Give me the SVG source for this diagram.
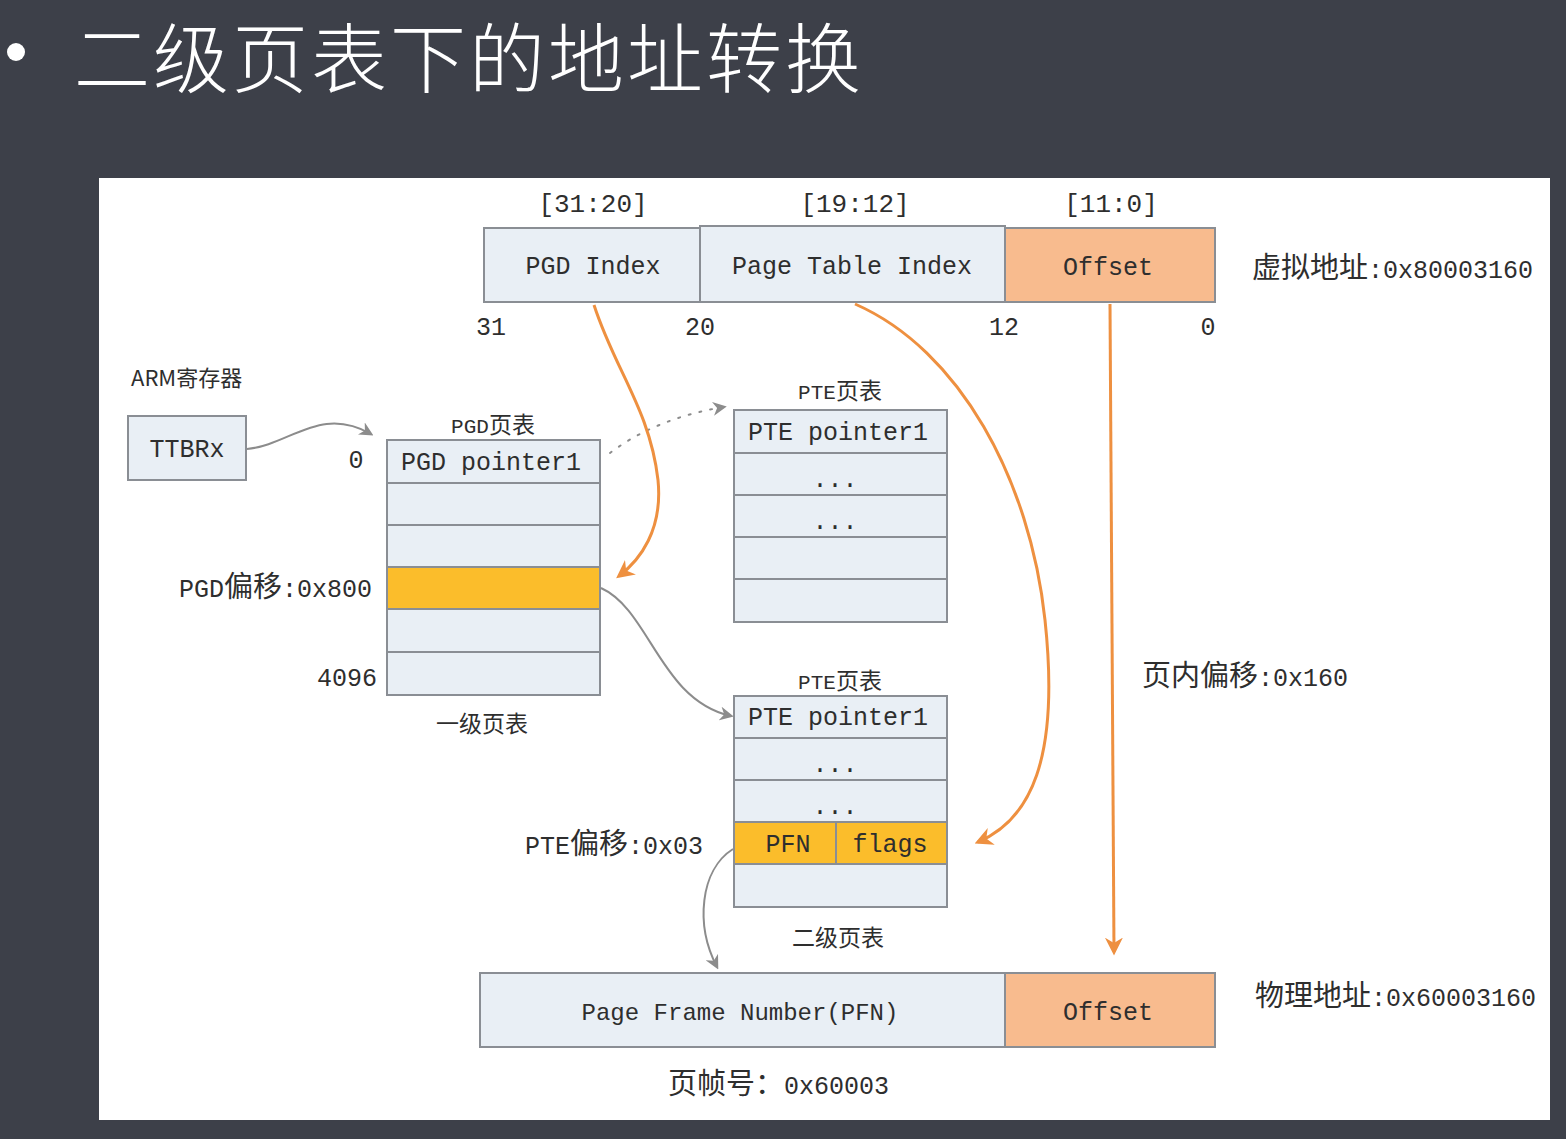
<svg xmlns="http://www.w3.org/2000/svg" width="1566" height="1139" viewBox="0 0 1566 1139">
  <defs>
    <style>
      .m { font-family: 'Liberation Mono', 'Noto Sans CJK SC', monospace; fill: #2e2e2e; }
      .c { font-family: 'Noto Sans CJK SC', sans-serif; }
      .cell { fill: #e9eff5; stroke: #8a8e94; stroke-width: 2; }
      .hl { fill: #fbbd2b; stroke: #8a8e94; stroke-width: 2; }
      .off { fill: #f8bb8e; stroke: #8a8e94; stroke-width: 2; }
      .or { fill: none; stroke: #ee9040; stroke-width: 3; }
      .gr { fill: none; stroke: #8c8c8c; stroke-width: 2; }
    </style>
    <marker id="ao" viewBox="0 0 10 10" refX="8" refY="5" markerWidth="6" markerHeight="6" orient="auto" markerUnits="strokeWidth">
      <path d="M0,0 L10,5 L0,10 L3,5 Z" fill="#ee9040"/>
    </marker>
    <marker id="ag" viewBox="0 0 10 10" refX="8" refY="5" markerWidth="7" markerHeight="7" orient="auto" markerUnits="strokeWidth">
      <path d="M0,0 L10,5 L0,10 L3,5 Z" fill="#8c8c8c"/>
    </marker>
  </defs>

  <!-- slide background and canvas -->
  <rect x="0" y="0" width="1566" height="1139" fill="#3d4049"/>
  <rect x="99" y="178" width="1451" height="942" fill="#ffffff"/>

  <!-- heading -->
  <g id="title">
    <circle cx="16" cy="52" r="9" fill="#ffffff"/>
    <text x="74" y="87" font-family="'Noto Sans CJK SC', sans-serif" font-size="76" font-weight="300" letter-spacing="3" fill="#ffffff">二级页表下的地址转换</text>
  </g>

  <!-- virtual address -->
  <g id="vaddr">
    <rect class="cell" x="484" y="228" width="216" height="74"/>
    <rect class="cell" x="700" y="226" width="305" height="76"/>
    <rect class="off" x="1005" y="228" width="210" height="74"/>
    <text class="m" x="593" y="274" font-size="25" text-anchor="middle">PGD Index</text>
    <text class="m" x="852" y="274" font-size="25" text-anchor="middle">Page Table Index</text>
    <text class="m" x="1108" y="275" font-size="25" text-anchor="middle">Offset</text>
    <text class="m" x="593" y="212" font-size="26" text-anchor="middle">[31:20]</text>
    <text class="m" x="855" y="212" font-size="26" text-anchor="middle">[19:12]</text>
    <text class="m" x="1111" y="212" font-size="26" text-anchor="middle">[11:0]</text>
    <text class="m" x="491" y="335" font-size="25" text-anchor="middle">31</text>
    <text class="m" x="700" y="335" font-size="25" text-anchor="middle">20</text>
    <text class="m" x="1004" y="335" font-size="25" text-anchor="middle">12</text>
    <text class="m" x="1208" y="335" font-size="25" text-anchor="middle">0</text>
    <text class="m" x="1252" y="278" font-size="25"><tspan class="c" font-size="29">虚拟地址</tspan>:0x80003160</text>
  </g>

  <!-- ARM register -->
  <g id="ttbr">
    <text class="m" x="131" y="386" font-size="20" font-weight="bold"><tspan class="c" font-size="22" font-weight="normal">ARM寄存器</tspan></text>
    <rect class="cell" x="128" y="416" width="118" height="64"/>
    <text class="m" x="187" y="457" font-size="25" text-anchor="middle">TTBRx</text>
  </g>

  <!-- first-level table -->
  <g id="pgd">
    <text class="m" x="493" y="433" font-size="21" text-anchor="middle">PGD<tspan class="c" font-size="23">页表</tspan></text>
    <rect class="cell" x="387" y="440" width="213" height="43"/>
    <rect class="cell" x="387" y="483" width="213" height="42"/>
    <rect class="cell" x="387" y="525" width="213" height="42"/>
    <rect class="hl" x="387" y="567" width="213" height="42"/>
    <rect class="cell" x="387" y="609" width="213" height="43"/>
    <rect class="cell" x="387" y="652" width="213" height="43"/>
    <text class="m" x="491" y="470" font-size="25" text-anchor="middle">PGD pointer1</text>
    <text class="m" x="356" y="468" font-size="25" text-anchor="middle">0</text>
    <text class="m" x="372" y="597" font-size="25" text-anchor="end">PGD<tspan class="c" font-size="29">偏移</tspan>:0x800</text>
    <text class="m" x="377" y="686" font-size="25" text-anchor="end">4096</text>
    <text class="c" x="482" y="732" font-size="23" text-anchor="middle" fill="#2e2e2e">一级页表</text>
  </g>

  <!-- second-level table (upper) -->
  <g id="pte1">
    <text class="m" x="840" y="399" font-size="21" text-anchor="middle">PTE<tspan class="c" font-size="23">页表</tspan></text>
    <rect class="cell" x="734" y="410" width="213" height="43"/>
    <rect class="cell" x="734" y="453" width="213" height="42"/>
    <rect class="cell" x="734" y="495" width="213" height="42"/>
    <rect class="cell" x="734" y="537" width="213" height="42"/>
    <rect class="cell" x="734" y="579" width="213" height="43"/>
    <text class="m" x="838" y="440" font-size="25" text-anchor="middle">PTE pointer1</text>
    <text class="m" x="835" y="487" font-size="25" text-anchor="middle">...</text>
    <text class="m" x="835" y="529" font-size="25" text-anchor="middle">...</text>
  </g>

  <!-- second-level table (lower) -->
  <g id="pte2">
    <text class="m" x="840" y="689" font-size="21" text-anchor="middle">PTE<tspan class="c" font-size="23">页表</tspan></text>
    <rect class="cell" x="734" y="696" width="213" height="42"/>
    <rect class="cell" x="734" y="738" width="213" height="42"/>
    <rect class="cell" x="734" y="780" width="213" height="42"/>
    <rect class="hl" x="734" y="822" width="102" height="42"/>
    <rect class="hl" x="836" y="822" width="111" height="42"/>
    <rect class="cell" x="734" y="864" width="213" height="43"/>
    <text class="m" x="838" y="725" font-size="25" text-anchor="middle">PTE pointer1</text>
    <text class="m" x="835" y="772" font-size="25" text-anchor="middle">...</text>
    <text class="m" x="835" y="814" font-size="25" text-anchor="middle">...</text>
    <text class="m" x="788" y="852" font-size="25" text-anchor="middle">PFN</text>
    <text class="m" x="890" y="852" font-size="25" text-anchor="middle">flags</text>
    <text class="m" x="703" y="854" font-size="25" text-anchor="end">PTE<tspan class="c" font-size="29">偏移</tspan>:0x03</text>
    <text class="c" x="838" y="946" font-size="23" text-anchor="middle" fill="#2e2e2e">二级页表</text>
  </g>

  <!-- physical address -->
  <g id="paddr">
    <rect class="cell" x="480" y="973" width="525" height="74"/>
    <rect class="off" x="1005" y="973" width="210" height="74"/>
    <text class="m" x="740" y="1020" font-size="24" text-anchor="middle">Page Frame Number(PFN)</text>
    <text class="m" x="1108" y="1020" font-size="25" text-anchor="middle">Offset</text>
    <text class="m" x="1255" y="1006" font-size="25"><tspan class="c" font-size="29">物理地址</tspan>:0x60003160</text>
    <text class="m" x="668" y="1094" font-size="25"><tspan class="c" font-size="29">页帧号：</tspan>0x60003</text>
  </g>

  <text class="m" x="1142" y="686" font-size="25"><tspan class="c" font-size="29">页内偏移</tspan>:0x160</text>

  <!-- connectors -->
  <g id="connectors">
    <path class="gr" d="M247,449 C290,445 320,405 371,434" marker-end="url(#ag)"/>
    <path class="gr" d="M610,453 C640,430 680,414 724,407" stroke-dasharray="2 9" stroke-linecap="round" marker-end="url(#ag)"/>
    <path class="or" d="M594,305 C615,370 650,410 658,480 C663,530 640,560 619,576" marker-end="url(#ao)"/>
    <path class="or" d="M855,304 C960,350 1030,480 1045,620 C1060,760 1030,820 978,842" marker-end="url(#ao)"/>
    <path class="or" d="M1110,304 L1114,952" marker-end="url(#ao)"/>
    <path class="gr" d="M601,588 C650,610 660,700 731,716" marker-end="url(#ag)"/>
    <path class="gr" d="M733,849 C700,870 695,925 717,967" marker-end="url(#ag)"/>
  </g>
</svg>
